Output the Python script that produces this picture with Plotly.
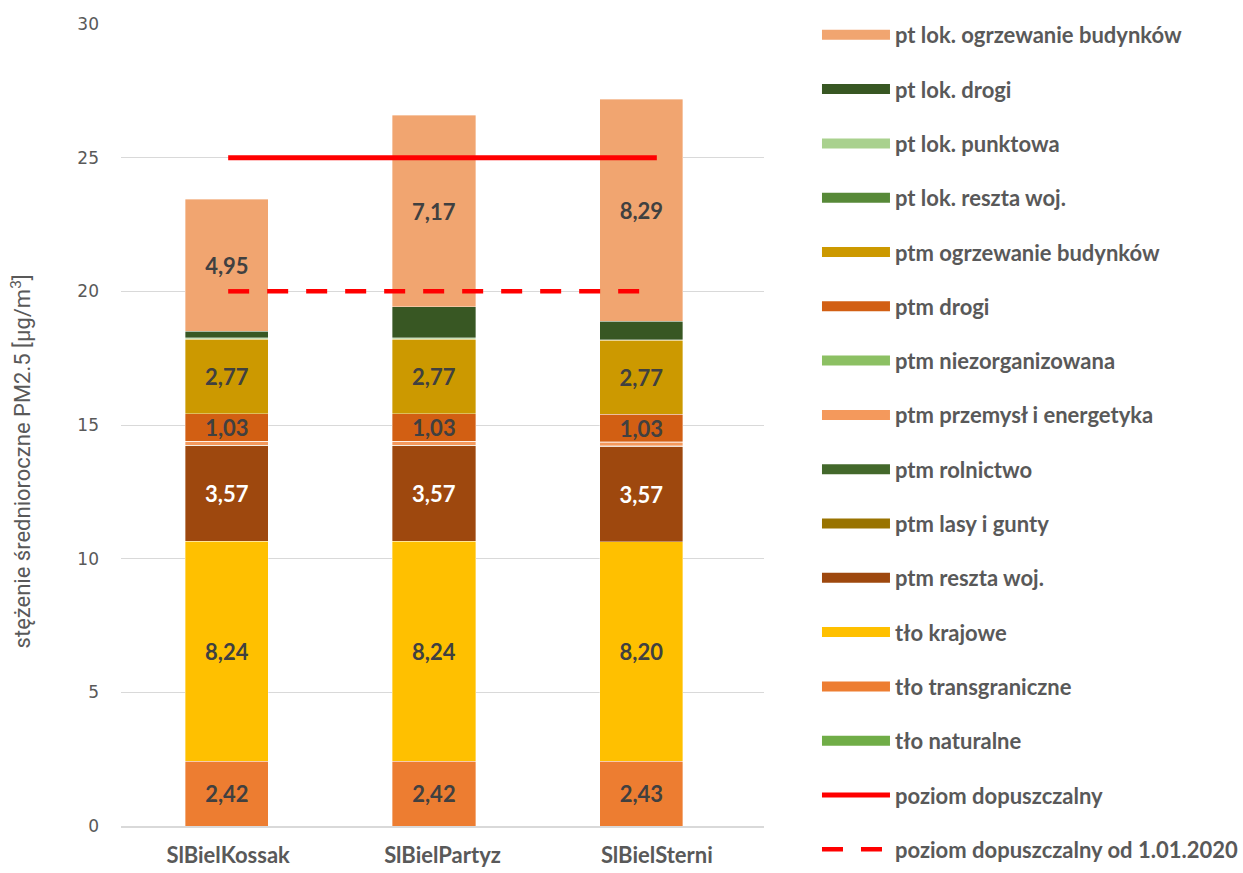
import plotly.graph_objects as go

categories = ["SlBielKossak", "SlBielPartyz", "SlBielSterni"]

# series in stacking order (bottom -> top)
tlo_naturalne = [0.0, 0.0, 0.0]
tlo_transgraniczne = [2.42, 2.42, 2.43]
tlo_krajowe = [8.24, 8.24, 8.20]
ptm_reszta_woj = [3.57, 3.57, 3.57]
ptm_lasy_i_gunty = [0.01, 0.01, 0.01]
ptm_rolnictwo = [0.01, 0.01, 0.01]
ptm_przemysl = [0.14, 0.14, 0.14]
ptm_niezorganizowana = [0.01, 0.01, 0.01]
ptm_drogi = [1.03, 1.03, 1.03]
ptm_ogrzewanie = [2.77, 2.77, 2.77]
pt_lok_reszta_woj = [0.02, 0.02, 0.01]
pt_lok_punktowa = [0.04, 0.05, 0.01]
pt_lok_drogi = [0.24, 1.15, 0.70]
pt_lok_ogrzewanie = [4.95, 7.17, 8.29]

poziom_dopuszczalny = [25, 25, 25]
poziom_2020 = [20, 20, 20]

series = [
    ("tło naturalne", tlo_naturalne, "#70AD47", False, "#404040"),
    ("tło transgraniczne", tlo_transgraniczne, "#ED7D31", True, "#404040"),
    ("tło krajowe", tlo_krajowe, "#FFC000", True, "#404040"),
    ("ptm reszta woj.", ptm_reszta_woj, "#9E480E", True, "#FFFFFF"),
    ("ptm lasy i gunty", ptm_lasy_i_gunty, "#997300", False, "#404040"),
    ("ptm rolnictwo", ptm_rolnictwo, "#43682B", False, "#404040"),
    ("ptm przemysł i energetyka", ptm_przemysl, "#F4995C", False, "#404040"),
    ("ptm niezorganizowana", ptm_niezorganizowana, "#8CC063", False, "#404040"),
    ("ptm drogi", ptm_drogi, "#D25F13", True, "#404040"),
    ("ptm ogrzewanie budynków", ptm_ogrzewanie, "#CC9900", True, "#404040"),
    ("pt lok. reszta woj.", pt_lok_reszta_woj, "#578938", False, "#404040"),
    ("pt lok. punktowa", pt_lok_punktowa, "#A9D18E", False, "#404040"),
    ("pt lok. drogi", pt_lok_drogi, "#385723", False, "#404040"),
    ("pt lok. ogrzewanie budynków", pt_lok_ogrzewanie, "#F1A570", True, "#404040"),
]

bar_width = 0.388
bar_offset = [-0.20, -0.234, -0.266]

fig = go.Figure()
n = len(series)
for i, (name, vals, color, show_lbl, lbl_color) in enumerate(series):
    fig.add_trace(go.Bar(
        x=categories, y=vals, name=name,
        marker=dict(color=color, line=dict(color="rgba(255,255,255,0.6)", width=0.6)),
        width=bar_width, offset=bar_offset,
        texttemplate="%{y:.2f}" if show_lbl else None,
        textposition="inside" if show_lbl else "none",
        insidetextanchor="middle",
        constraintext="none",
        textfont=dict(family="Lato", size=22, color=lbl_color, weight="bold"),
        showlegend=False,
        legendgroup=name,
        hoverinfo="skip",
    ))
    # legend swatch (wide rectangle like the reference legend keys)
    fig.add_trace(go.Scatter(
        x=[None], y=[None], name=name, mode="lines",
        line=dict(color=color, width=14),
        legendgroup=name, legendrank=100 + (n - i),
        hoverinfo="skip",
    ))

fig.add_trace(go.Scatter(
    x=categories, y=poziom_dopuszczalny, name="poziom dopuszczalny",
    mode="lines", line=dict(color="#FF0000", width=5),
    legendrank=200, legendgroup="pd",
))
fig.add_trace(go.Scatter(
    x=categories, y=poziom_2020, name="poziom dopuszczalny od 1.01.2020",
    mode="lines", line=dict(color="#FF0000", width=4.5, dash="21px,18px"),
    legendrank=201, legendgroup="pd2",
))

fig.update_layout(
    width=1243, height=873,
    barmode="stack",
    separators=", ",
    plot_bgcolor="white", paper_bgcolor="white",
    margin=dict(l=121, r=479, t=24, b=47, autoexpand=False),
    font=dict(family="Lato", color="#595959"),
    showlegend=True,
    legend=dict(
        x=1.0824, xanchor="left", y=1.0125, yanchor="top",
        font=dict(family="Lato", size=22, color="#595959", weight="bold"),
        traceorder="grouped",
        tracegroupgap=22.7,
        itemwidth=68,
        maxheight=2000,
        itemclick=False, itemdoubleclick=False,
    ),
    xaxis=dict(
        showgrid=False, showline=True, linecolor="#D9D9D9", linewidth=1.5,
        tickfont=dict(family="Lato", size=22, color="#595959", weight="bold"),
        ticks="", ticklabelstandoff=9,
    ),
    yaxis=dict(
        range=[0, 30], dtick=5, showgrid=True, gridcolor="#D9D9D9", gridwidth=1,
        zeroline=False, showline=False, ticks="",
        tickfont=dict(family="DejaVu Sans", size=17, color="#595959"),
        ticklabelstandoff=21,
    ),
    annotations=[dict(
        text="stężenie średnioroczne PM2.5 [µg/m<sup>3</sup>]",
        xref="paper", yref="paper", x=-0.155, y=0.455, textangle=-90,
        showarrow=False, xanchor="center", yanchor="middle",
        font=dict(family="Roboto", size=22, color="#595959"),
    )],
)

fig.write_html("out.html", config={"displayModeBar": False},
               post_script="document.body.style.margin='0';")
